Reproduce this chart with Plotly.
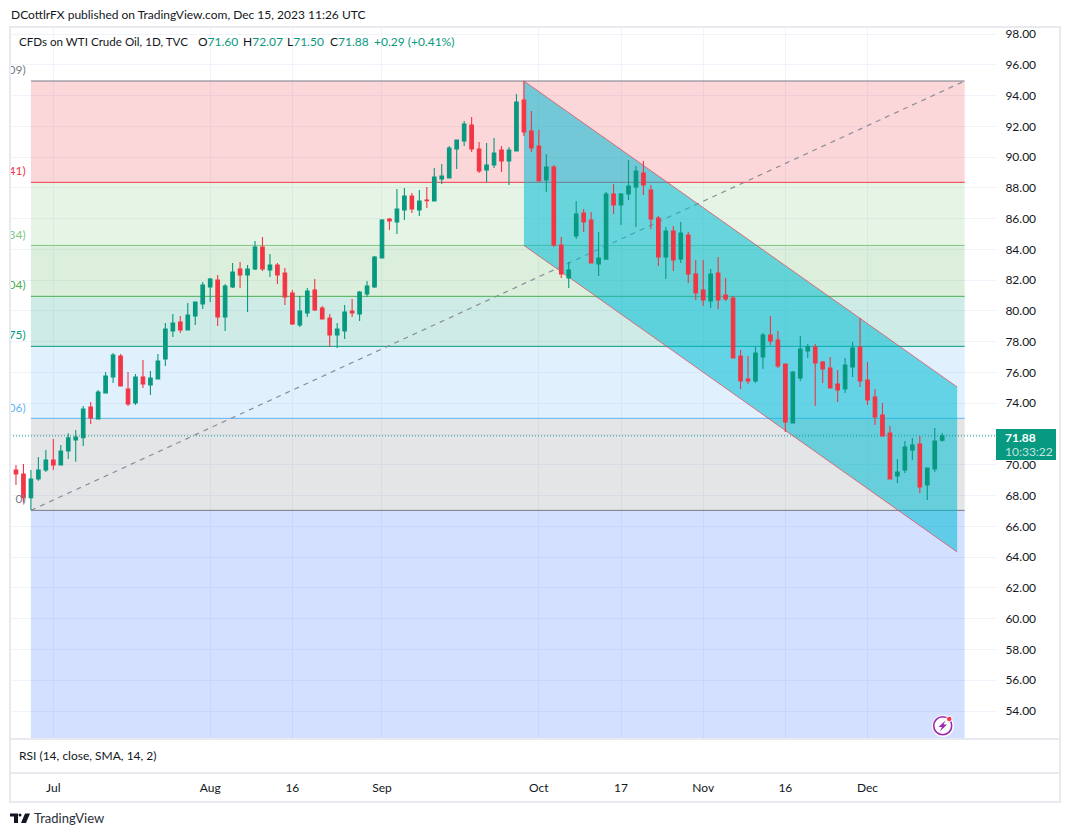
import plotly.graph_objects as go

# Daily bars, Jun 26 to Dec 15 2023, weekends left out
opens = [69.66, 69.40, 67.87, 69.08, 69.66, 70.31, 69.99, 70.90, 71.61, 71.76,
         73.76, 72.98, 74.67, 75.71, 77.07, 74.93, 74.02, 75.71, 75.19, 75.58,
         76.88, 78.70, 79.28, 78.76, 79.67, 80.45, 81.56, 82.01, 79.61, 81.56,
         82.73, 82.34, 82.73, 84.16, 82.66, 82.99, 82.47, 81.17, 79.09, 79.87,
         81.36, 80.19, 79.54, 78.44, 78.70, 80.00, 79.80, 81.10, 81.56, 83.44,
         85.97, 85.78, 86.56, 87.47, 86.56, 87.21, 87.15, 88.58, 88.64, 90.53,
         91.05, 92.09, 90.53, 89.16, 89.49, 90.46, 89.75, 90.40, 93.71, 91.70,
         90.72, 88.51, 89.36, 84.29, 82.14, 84.87, 86.37, 85.91, 83.05, 83.37,
         87.60, 86.89, 87.60, 88.06, 88.97, 87.86, 86.04, 83.51, 85.20, 83.38,
         84.94, 82.40, 81.36, 80.65, 82.47, 81.04, 80.84, 77.07, 75.58, 75.45,
         77.01, 78.44, 78.11, 76.55, 72.72, 75.64, 77.40, 77.66, 76.68, 76.29,
         75.25, 74.93, 76.36, 77.66, 75.51, 74.41, 73.24, 72.07, 69.27, 69.66,
         70.96, 71.35, 68.69, 69.73, 71.60]
highs = [69.99, 70.05, 69.66, 70.51, 70.96, 71.68, 71.29, 72.05, 72.26, 73.82,
         74.08, 74.86, 76.03, 77.27, 77.20, 76.03, 75.90, 76.81, 76.10, 77.20,
         79.22, 79.80, 79.67, 80.52, 80.58, 81.88, 82.14, 82.34, 81.75, 83.12,
         83.18, 82.99, 84.54, 84.81, 83.70, 83.12, 82.79, 81.36, 80.97, 81.49,
         82.08, 80.32, 79.80, 79.22, 80.39, 80.78, 81.30, 81.95, 83.57, 85.97,
         86.04, 87.93, 87.99, 87.67, 87.86, 88.06, 89.29, 89.55, 90.72, 91.11,
         92.35, 92.60, 90.98, 90.92, 91.24, 90.72, 90.66, 94.10, 94.94, 93.00,
         91.76, 90.20, 89.49, 84.81, 83.18, 87.15, 86.63, 86.43, 85.13, 87.73,
         88.25, 87.67, 89.81, 89.42, 89.75, 88.19, 86.17, 85.46, 85.52, 85.78,
         85.13, 83.31, 83.31, 82.73, 83.51, 82.14, 80.97, 77.46, 77.07, 77.66,
         78.57, 79.67, 78.70, 76.55, 76.10, 78.37, 77.85, 77.85, 76.75, 77.00,
         76.16, 76.94, 77.98, 79.54, 76.68, 74.93, 74.02, 72.52, 70.38, 71.55,
         71.74, 71.87, 69.79, 72.39, 72.07]
lows = [68.69, 67.54, 67.06, 68.97, 69.53, 69.66, 69.99, 70.38, 70.20, 71.22,
        72.65, 72.98, 74.67, 75.32, 75.12, 73.82, 73.89, 74.99, 74.54, 75.58,
        76.42, 78.31, 78.57, 78.76, 79.09, 80.13, 80.58, 79.02, 78.70, 81.49,
        81.49, 79.93, 82.66, 82.60, 82.21, 81.75, 80.39, 79.09, 78.96, 79.61,
        80.00, 79.48, 77.66, 77.59, 78.18, 79.61, 79.35, 80.91, 81.49, 83.44,
        85.26, 85.00, 85.91, 86.37, 86.17, 86.69, 87.15, 88.25, 88.64, 89.23,
        90.72, 90.33, 88.97, 88.38, 89.29, 89.03, 88.19, 90.40, 91.37, 90.33,
        88.45, 87.73, 84.16, 82.14, 81.49, 84.68, 85.13, 83.12, 82.27, 83.37,
        86.30, 85.59, 87.21, 85.46, 87.54, 85.33, 82.92, 82.08, 82.60, 83.12,
        81.82, 80.71, 80.32, 80.19, 80.13, 80.65, 76.94, 74.93, 75.25, 75.32,
        76.23, 77.79, 76.29, 72.13, 72.72, 75.45, 76.94, 73.82, 75.32, 74.99,
        74.08, 74.67, 75.71, 75.06, 73.89, 72.59, 71.87, 69.08, 68.82, 69.47,
        70.31, 68.17, 67.71, 69.53, 71.50]
closes = [69.40, 67.87, 69.08, 69.66, 70.31, 69.99, 70.90, 71.76, 71.81, 73.63,
          73.04, 74.73, 75.77, 77.14, 75.12, 73.95, 75.71, 75.25, 75.64, 76.75,
          78.83, 79.22, 78.76, 79.74, 80.58, 81.69, 82.08, 79.61, 81.62, 82.53,
          82.34, 82.73, 84.16, 82.73, 82.99, 82.34, 80.91, 79.15, 80.00, 81.30,
          80.06, 79.48, 78.44, 78.83, 79.93, 79.87, 81.23, 81.62, 83.51, 85.91,
          85.85, 86.63, 87.47, 86.63, 87.15, 87.17, 88.71, 88.77, 90.59, 91.11,
          92.15, 90.53, 89.10, 89.49, 90.27, 89.75, 90.46, 93.58, 91.63, 90.59,
          88.45, 89.36, 84.29, 82.40, 82.66, 86.30, 85.78, 83.12, 83.44, 87.60,
          86.89, 87.60, 88.12, 89.10, 88.19, 85.98, 83.51, 85.20, 83.31, 85.07,
          82.40, 81.17, 80.71, 82.40, 80.71, 80.78, 76.94, 75.45, 75.45, 77.27,
          78.44, 78.05, 76.42, 72.78, 76.03, 77.53, 77.68, 76.62, 76.23, 74.99,
          74.86, 76.49, 77.59, 75.45, 74.21, 73.11, 71.87, 69.08, 69.53, 71.16,
          71.29, 68.56, 69.79, 71.55, 71.88]
bars = list(range(len(closes)))

date_ticks = [5, 26, 37, 49, 70, 81, 92, 103, 114]
date_labels = ["Jul", "Aug", "16", "Sep", "Oct", "17", "Nov", "16", "Dec"]
price_ticks = list(range(54, 100, 2))
# the 72.00 label sits behind the last price box
price_labels = ["" if p == 72 else f"{p}.00" for p in price_ticks]

# Fib retracement, top level first
fib_levels = [94.945, 88.36, 84.26, 80.95, 77.70, 73.02, 67.04]
fib_line_colors = ["#787b86", "#f23645", "#81c784", "#4caf50", "#089981", "#64b5f6", "#787b86"]
fib_fills = ["rgba(242,54,69,0.2)", "rgba(129,199,132,0.2)", "rgba(76,175,80,0.2)",
             "rgba(8,153,129,0.2)", "rgba(100,181,246,0.2)", "rgba(120,123,134,0.2)",
             "rgba(41,98,255,0.2)"]
fib_labels = ["09)", "41)", "34)", "04)", "75)", "06)", "0)"]
fib_label_prices = [95.60, 89.05, 84.90, 81.65, 78.35, 73.65, 67.70]
fib_start, fib_end = 2, 127

# Falling channel: bar, upper price, lower price at each end
channel_bars = [68, 126]
channel_upper = [94.945, 75.06]
channel_lower = [84.26, 64.33]

WIDTH, HEIGHT = 1070, 836
LEFT, RIGHT, TOP, BOTTOM = 10, 996, 27, 739
x_range = [-0.80, 131.2]
y_range = [52.18, 98.455]
UP, DOWN = "#089981", "#f23645"
TEXT = "#131722"
FONT = "Lato"


def px(x):
    return x / WIDTH


def py(y):
    return 1 - y / HEIGHT


def poly(points):
    # paper coordinates for a polygon given in page pixels
    return "M " + " L ".join(f"{px(x):.5f} {py(y):.5f}" for x, y in points) + " Z"


def text_at(x, y, text, size=12, color=TEXT, anchor="left"):
    return dict(x=px(x), y=py(y), xref="paper", yref="paper", text=text, showarrow=False,
                xanchor=anchor, yanchor="middle", font=dict(size=size, color=color, family=FONT))


fig = go.Figure()

fig.add_trace(go.Scatter(
    x=[1.3] * len(fib_labels), y=fib_label_prices, text=fib_labels, mode="text",
    textposition="middle left", cliponaxis=True, hoverinfo="skip",
    textfont=dict(size=12, color=fib_line_colors, family=FONT),
))
fig.add_trace(go.Candlestick(
    x=bars, open=opens, high=highs, low=lows, close=closes, whiskerwidth=0,
    increasing=dict(line=dict(color=UP, width=1.1), fillcolor=UP),
    decreasing=dict(line=dict(color=DOWN, width=1.1), fillcolor=DOWN),
    hoverinfo="skip",
))

shapes = []
fib_bottoms = fib_levels[1:] + [y_range[0]]
for top, bottom, fill in zip(fib_levels, fib_bottoms, fib_fills):
    shapes.append(dict(type="rect", xref="x", yref="y", x0=fib_start, x1=fib_end, y0=bottom, y1=top,
                       fillcolor=fill, line_width=0, layer="between"))
for level, color in zip(fib_levels, fib_line_colors):
    shapes.append(dict(type="line", xref="x", yref="y", x0=fib_start, x1=fib_end, y0=level, y1=level,
                       line=dict(color=color, width=1), layer="between"))
shapes.append(dict(type="line", xref="x", yref="y", x0=fib_start, x1=fib_end,
                   y0=fib_levels[-1], y1=fib_levels[0],
                   line=dict(color="#8a8d98", width=1.2, dash="5px,5px"), layer="between"))

# channel fill, then its two rails
channel_path = (f"M {channel_bars[0]} {channel_upper[0]} L {channel_bars[1]} {channel_upper[1]} "
                f"L {channel_bars[1]} {channel_lower[1]} L {channel_bars[0]} {channel_lower[0]} Z")
shapes.append(dict(type="path", xref="x", yref="y", path=channel_path,
                   fillcolor="rgba(0,188,212,0.55)", line_width=0, layer="between"))
for rail in (channel_upper, channel_lower):
    shapes.append(dict(type="line", xref="x", yref="y", x0=channel_bars[0], x1=channel_bars[1],
                       y0=rail[0], y1=rail[1], line=dict(color="rgba(242,54,69,0.65)", width=1),
                       layer="between"))

# last price marker
shapes.append(dict(type="line", xref="x", yref="y", x0=x_range[0], x1=x_range[1],
                   y0=closes[-1], y1=closes[-1], line=dict(color=UP, width=1, dash="1px,2px"), layer="between"))
shapes.append(dict(type="rect", xref="paper", yref="paper", x0=px(996), x1=px(1056), y0=py(460), y1=py(429),
                   fillcolor=UP, line_width=0))

# chart frame and pane separators
FRAME = "#e8eaf0"
shapes.append(dict(type="rect", xref="paper", yref="paper", x0=px(10), x1=px(1060), y0=py(802), y1=py(27),
                   line=dict(color=FRAME, width=2)))
for y in (739, 773):
    shapes.append(dict(type="line", xref="paper", yref="paper", x0=px(10), x1=px(1060), y0=py(y), y1=py(y),
                       line=dict(color=FRAME, width=2)))

# TradingView logo
LOGO = "#131722"
shapes.append(dict(type="path", xref="paper", yref="paper", fillcolor=LOGO, line_width=0,
                   path=poly([(10, 813.5), (18, 813.5), (18, 823), (14, 823), (14, 816.5), (10, 816.5)])))
shapes.append(dict(type="path", xref="paper", yref="paper", fillcolor=LOGO, line_width=0,
                   path=poly([(25, 813.5), (30, 813.5), (26, 823), (21, 823)])))
shapes.append(dict(type="circle", xref="paper", yref="paper", fillcolor=LOGO, line_width=0,
                   x0=px(18.5), x1=px(21.5), y0=py(816.5), y1=py(813.5)))

# lightning badge
PURPLE = "#9c27b0"
shapes.append(dict(type="circle", xref="paper", yref="paper", fillcolor="white",
                   line=dict(color="white", width=0), x0=px(932), x1=px(954), y0=py(737), y1=py(715)))
shapes.append(dict(type="circle", xref="paper", yref="paper", fillcolor="white",
                   line=dict(color=PURPLE, width=1.6), x0=px(933.7), x1=px(951.7), y0=py(734.7), y1=py(716.7)))
shapes.append(dict(type="path", xref="paper", yref="paper", fillcolor=PURPLE, line_width=0,
                   path=poly([(945.5, 720.5), (938.5, 727), (942, 727), (940, 731.5), (947, 724.5), (943.5, 724.5)])))
shapes.append(dict(type="circle", xref="paper", yref="paper", fillcolor=DOWN,
                   line=dict(color="white", width=1), x0=px(946.5), x1=px(952), y0=py(721.7), y1=py(716.2)))

annotations = [
    text_at(9, 15, "DCottlrFX published on TradingView.com, Dec 15, 2023 11:26 UTC", 12),
    text_at(16.5, 42, "CFDs on WTI Crude Oil, 1D, TVC", 11.6),
    text_at(196, 42, f'O<span style="color:{UP}">71.60</span>', 12),
    text_at(241, 42, f'H<span style="color:{UP}">72.07</span>', 12),
    text_at(285, 42, f'L<span style="color:{UP}">71.50</span>', 12),
    text_at(328, 42, f'C<span style="color:{UP}">71.88</span>', 12),
    text_at(372, 42, "+0.29 (+0.41%)", 12, UP),
    text_at(16.5, 755, "RSI (14, close, SMA, 14, 2)", 12),
    text_at(31.5, 818, "TradingView", 13, "#2a2e39"),
    text_at(1003, 437, "<b>71.88</b>", 12, "white"),
    text_at(1003, 451, "10:33:22", 12, "rgba(255,255,255,0.75)"),
]

fig.update_layout(
    width=WIDTH, height=HEIGHT, margin=dict(l=0, r=0, t=0, b=0),
    paper_bgcolor="white", plot_bgcolor="white", showlegend=False, boxgap=0.32,
    font=dict(family=FONT, size=12, color=TEXT),
    shapes=shapes, annotations=annotations,
    xaxis=dict(
        domain=[px(LEFT), px(RIGHT)], range=x_range, rangeslider_visible=False,
        tickmode="array", tickvals=date_ticks, ticktext=date_labels,
        showgrid=True, gridcolor="#f0f3fa", gridwidth=1, zeroline=False, showline=False,
        ticks="outside", ticklen=38, tickcolor="rgba(0,0,0,0)",
    ),
    yaxis=dict(
        domain=[py(BOTTOM), py(TOP)], range=y_range, side="right",
        tickmode="array", tickvals=price_ticks, ticktext=price_labels,
        showgrid=True, gridcolor="#f0f3fa", gridwidth=1, zeroline=False, showline=False,
        ticks="outside", ticklen=6, tickcolor="rgba(0,0,0,0)",
    ),
)

fig.write_html("out.html", config=dict(displayModeBar=False),
               post_script="document.body.style.margin='0';document.body.style.overflow='hidden';")
